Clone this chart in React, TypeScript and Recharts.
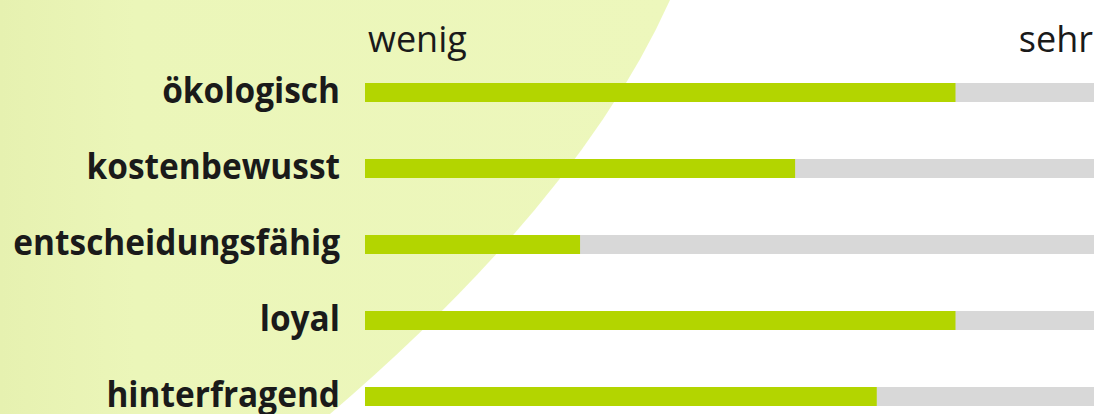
import React from 'react';
import { BarChart, Bar, XAxis, YAxis } from 'recharts';

const traits = ['ökologisch', 'kostenbewusst', 'entscheidungsfähig', 'loyal', 'hinterfragend'];
const scores = [81, 59, 29.5, 81, 70.2];
const scaleTicks = [0, 100];
const scaleLabels = ['wenig', 'sehr'];

const data = traits.map((trait, i) => ({ trait, score: scores[i] }));

const FONT = "'Open Sans', 'DejaVu Sans Condensed', sans-serif";

// labels in the original are a bit narrower than Open Sans bold
function TraitTick(props: any) {
  const { y, payload } = props;
  return (
    <text x={340} y={y} dy={11} textAnchor="end" fill="#1a1a1a"
      fontFamily={FONT} fontWeight={700} fontSize={35}
      transform="translate(340,0) scale(0.955,1) translate(-340,0)">
      {payload.value}
    </text>
  );
}

function ScaleTick(props: any) {
  const { x, payload, index } = props;
  const label = scaleLabels[scaleTicks.indexOf(payload.value)] ?? '';
  const first = index === 0;
  return (
    <text x={first ? x + 3 : 1093} y={52} textAnchor={first ? 'start' : 'end'}
      fill="#1a1a1a" fontFamily={FONT} fontSize={36}>
      {label}
    </text>
  );
}

export default function App() {
  return (
    <div style={{ position: 'fixed', left: 0, top: 0, width: 1094, height: 414, overflow: 'hidden', background: '#fff' }}>
      <svg width={1094} height={414} style={{ position: 'absolute', left: 0, top: 0 }}>
        <defs>
          <linearGradient id="bgfade" x1="0" x2="1" y1="0" y2="0">
            <stop offset="0" stopColor="#e6f1b0" />
            <stop offset="0.2" stopColor="#ebf6b9" />
            <stop offset="1" stopColor="#edf7bc" />
          </linearGradient>
        </defs>
        <path d="M0,0 L670,0 Q580,200 330,414 L0,414 Z" fill="url(#bgfade)" />
      </svg>
      <div style={{ position: 'absolute', left: 0, top: 0 }}>
        <BarChart width={1094} height={440} data={data} layout="vertical"
          margin={{ top: 24, right: 0, bottom: 6, left: 0 }}>
          <XAxis type="number" domain={[0, 100]} ticks={scaleTicks} orientation="top"
            axisLine={false} tickLine={false} tick={<ScaleTick />} height={30} />
          <YAxis type="category" dataKey="trait" width={365} axisLine={false} tickLine={false}
            tick={<TraitTick />} interval={0} />
          <Bar dataKey="score" fill="#b3d500" barSize={19} background={{ fill: '#d8d8d8' }}
            isAnimationActive={false} />
        </BarChart>
      </div>
    </div>
  );
}
